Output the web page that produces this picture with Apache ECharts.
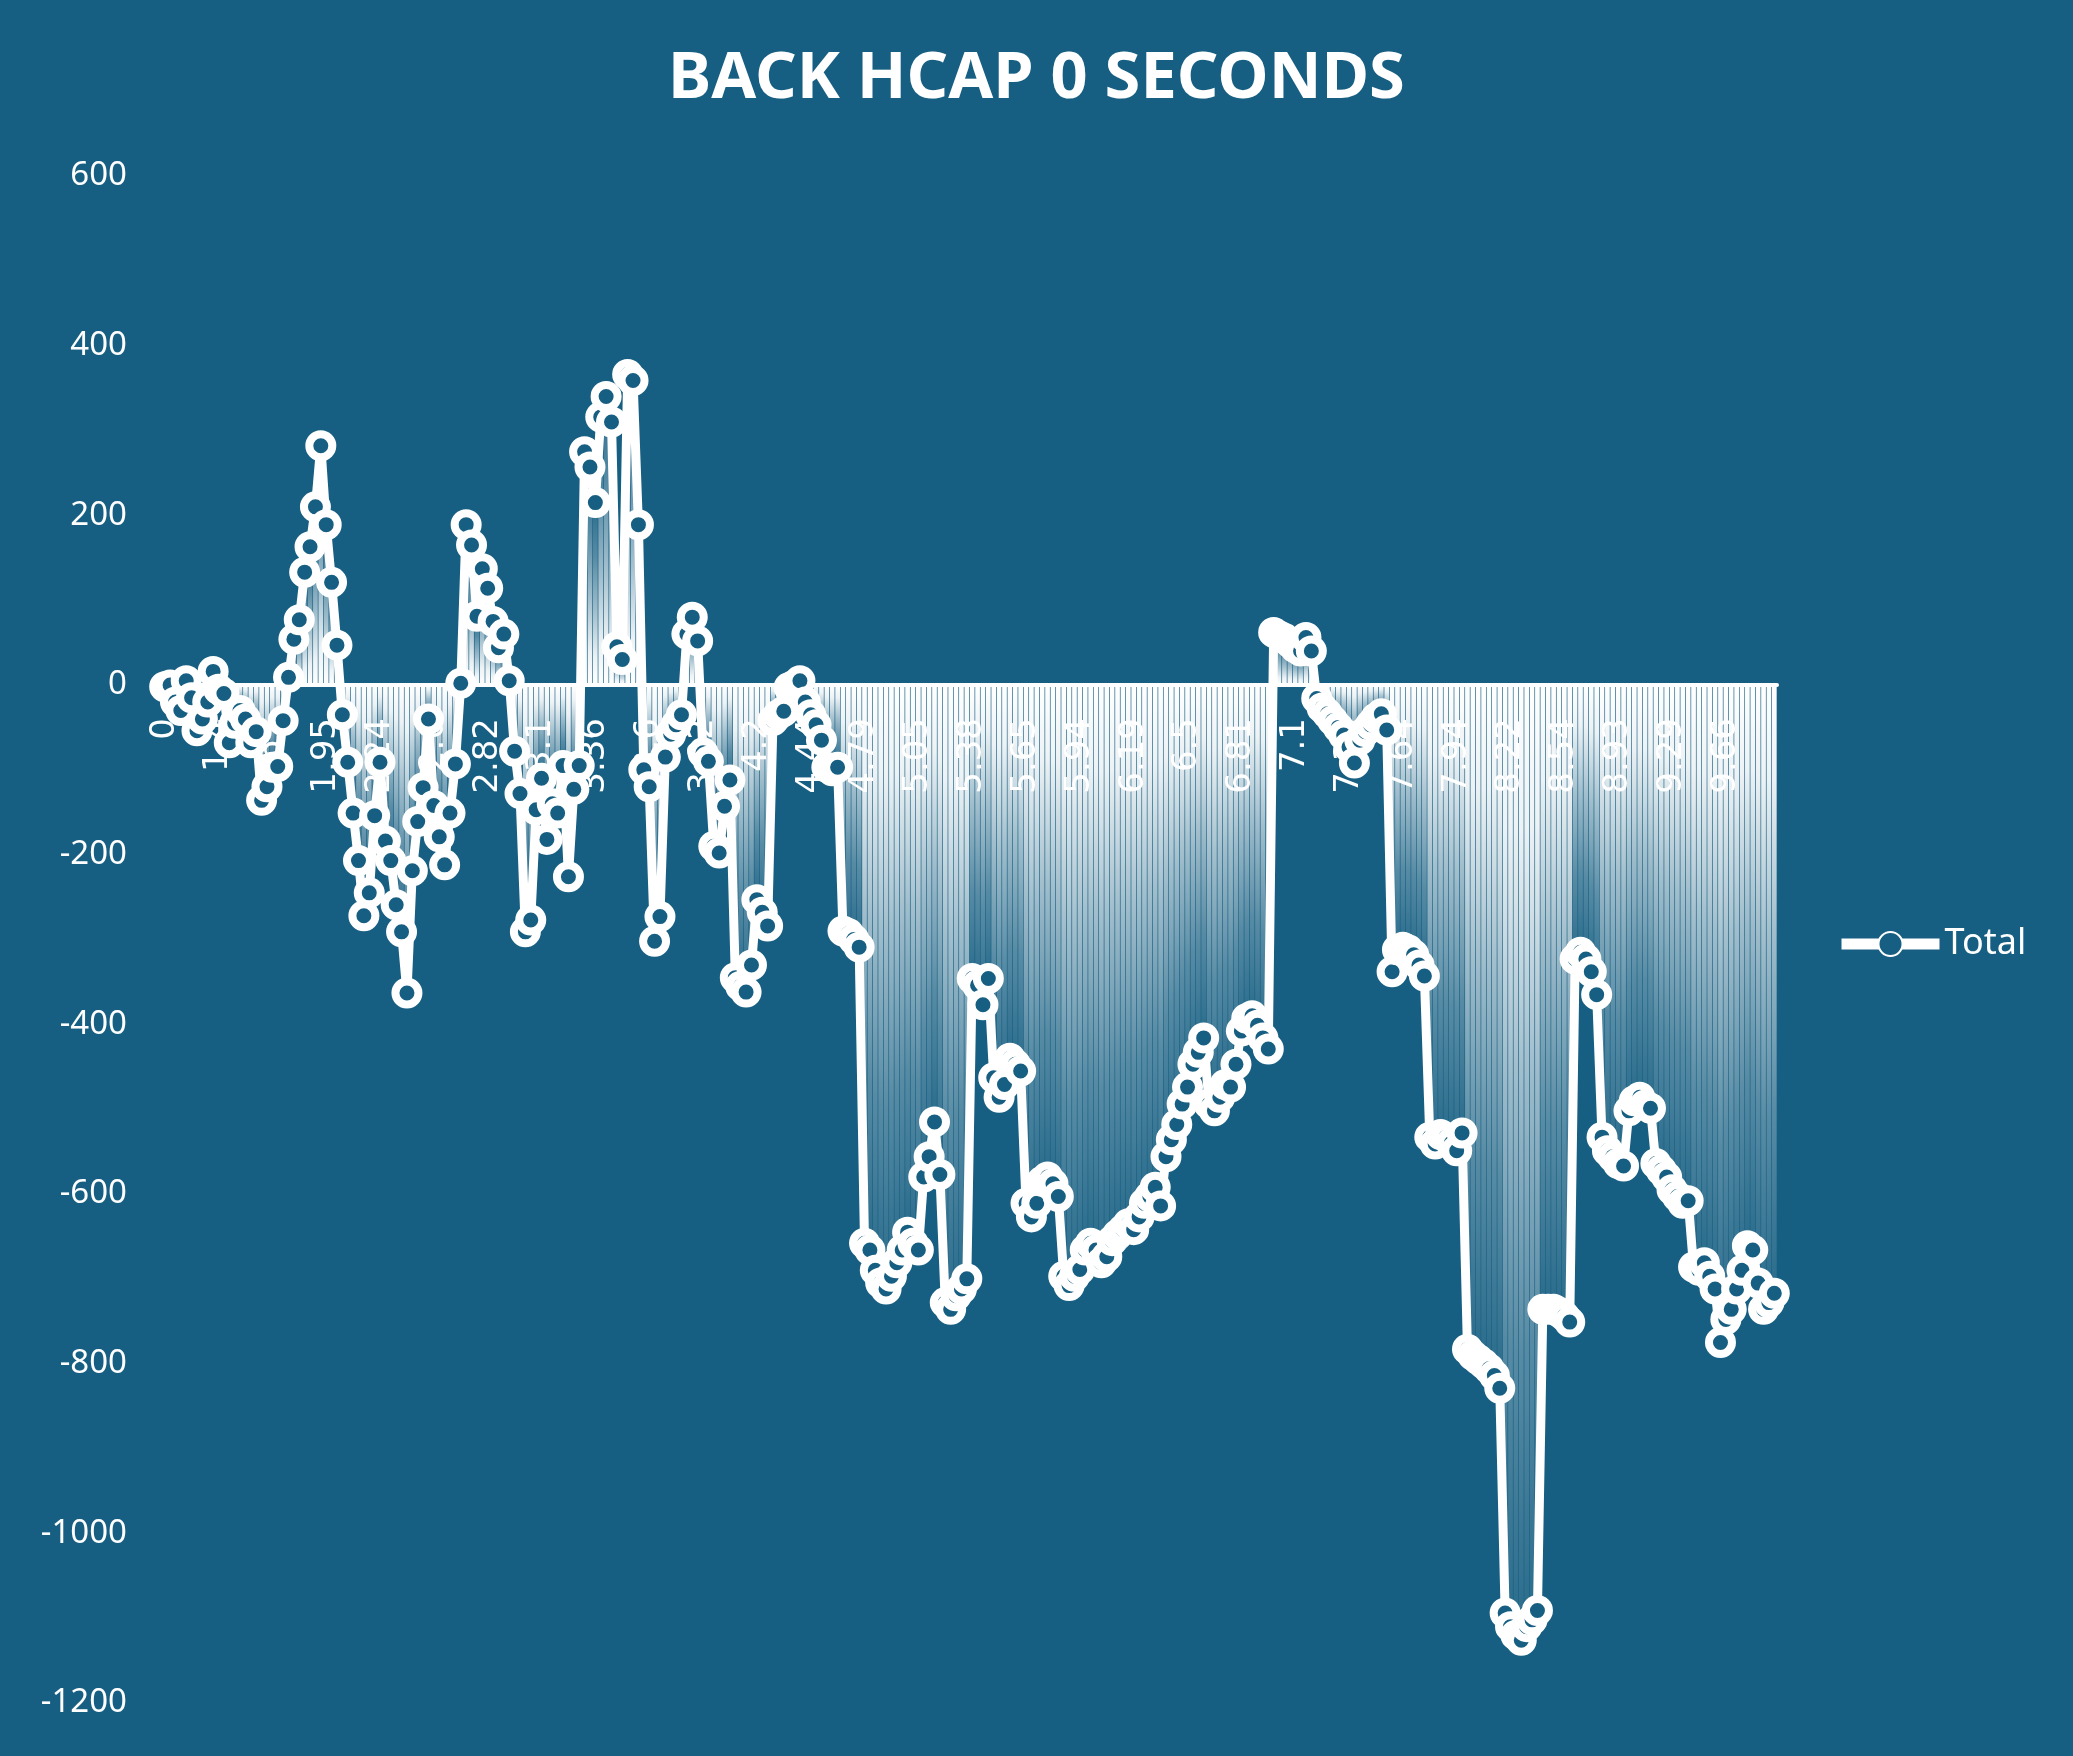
<!DOCTYPE html>
<html>
<head>
<meta charset="utf-8">
<script src="https://cdn.jsdelivr.net/npm/echarts@6/dist/echarts.min.js"></script>
<style>
  html, body { margin: 0; padding: 0; background: #175f82; }
  #chart { width: 2073px; height: 1756px; }
</style>
</head>
<body>
<div id="chart"></div>
<script>
// x tick labels, one every STEP points
const STEP = 10
const tickLabels = ['0', '1.4', '1.65', '1.95', '2.24', '2.6', '2.82', '3.1', '3.36', '3.6',
  '3.92', '4.2', '4.44', '4.79', '5.05', '5.38', '5.65', '5.94', '6.19', '6.5',
  '6.81', '7.1', '7.36', '7.64', '7.94', '8.22', '8.54', '8.93', '9.29', '9.66']

// running total
const total = [
  -2, 0, -20, -30, 5, -15, -54, -40, -20, 16,
  -5, -10, -68, -45, -30, -40, -68, -55, -136, -120,
  -97, -96, -42, 9, 54, 77, 133, 163, 210, 282,
  189, 121, 47, -35, -91, -151, -207, -272, -245, -154,
  -91, -184, -207, -259, -291, -363, -219, -161, -121, -40,
  -142, -179, -212, -151, -93, 2, 189, 165, 81, 137,
  114, 75, 44, 60, 5, -78, -128, -291, -277, -147,
  -110, -182, -140, -151, -95, -226, -123, -95, 275, 257,
  215, 316, 340, 310, 45, 30, 366, 359, 189, -100,
  -120, -302, -273, -85, -58, -47, -35, 60, 80, 52,
  -80, -90, -190, -198, -143, -112, -345, -355, -362, -330,
  -253, -268, -284, -42, -35, -31, -3, 0, 5, -20,
  -35, -47, -65, -97, -101, -97, -290, -293, -300, -309,
  -658, -666, -690, -705, -712, -697, -681, -666, -645, -658,
  -666, -580, -556, -515, -577, -728, -736, -720, -712, -700,
  -346, -354, -377, -346, -463, -486, -471, -440, -447, -455,
  -611, -627, -611, -585, -580, -588, -603, -697, -708, -697,
  -689, -666, -658, -666, -681, -674, -655, -648, -642, -635,
  -642, -627, -611, -603, -592, -614, -556, -536, -518, -494,
  -474, -447, -433, -416, -494, -502, -486, -471, -474, -447,
  -408, -393, -390, -401, -416, -429, 62, 58, 55, 50,
  44, 40, 56, 40, -16, -27, -34, -42, -50, -59,
  -73, -92, -65, -55, -47, -39, -34, -53, -338, -312,
  -309, -312, -318, -330, -343, -533, -541, -530, -533, -540,
  -549, -528, -783, -790, -795, -800, -806, -814, -829, -1094,
  -1110, -1120, -1126, -1110, -1102, -1091, -736, -736, -736, -739,
  -744, -751, -323, -315, -323, -338, -365, -533, -549, -556,
  -564, -567, -502, -490, -486, -495, -499, -564, -572, -580,
  -595, -603, -611, -608, -686, -690, -681, -697, -712, -775,
  -748, -736, -712, -690, -661, -666, -705, -736, -728, -717
]

const categories = total.map((v, i) => i)

const bg = '#175f82'
const yMin = -1200
const yMax = 600
const gridTop = 176
const gridBottom = 53
const plotH = 1756 - gridTop - gridBottom
// move the category axis up to the zero line
const zeroOffset = -plotH * (0 - yMin) / (yMax - yMin)

// drop lines: white at the axis, fading towards the point
function dropColor(v) {
  const stops = [
    { offset: 0, color: 'rgba(255,255,255,1)' },
    { offset: 0.15, color: 'rgba(255,255,255,0.92)' },
    { offset: 0.4, color: 'rgba(255,255,255,0.6)' },
    { offset: 0.7, color: 'rgba(255,255,255,0.28)' },
    { offset: 1, color: 'rgba(255,255,255,0.08)' }
  ]
  return v < 0
    ? new echarts.graphic.LinearGradient(0, 0, 0, 1, stops)
    : new echarts.graphic.LinearGradient(0, 1, 0, 0, stops)
}

let chart = echarts.init(document.getElementById('chart'))

chart.setOption({
  backgroundColor: bg,
  animation: false,
  title: {
    text: 'BACK HCAP 0 SECONDS',
    left: 'center',
    top: 42,
    textStyle: {
      color: '#fff',
      fontSize: 65,
      fontWeight: 'bold',
      fontFamily: 'Noto Sans'
    }
  },
  legend: {
    data: ['Total'],
    left: 1831,
    top: 921,
    itemWidth: 98,
    itemHeight: 30,
    lineStyle: { width: 11 },
    textStyle: { color: '#fff', fontSize: 36, fontFamily: 'Noto Sans' }
  },
  grid: {
    left: 162,
    right: 296,
    top: gridTop,
    bottom: gridBottom
  },
  xAxis: {
    type: 'category',
    data: categories,
    z: 2,
    position: 'bottom',
    offset: zeroOffset,
    axisLine: { onZero: false, lineStyle: { color: '#fff', width: 4 } },
    axisTick: { show: false },
    axisLabel: {
      rotate: 90,
      interval: STEP - 1,
      margin: 33,
      color: '#fff',
      fontSize: 34,
      fontFamily: 'DejaVu Sans',
      formatter: function (v, i) { return tickLabels[i / STEP] }
    },
    splitLine: { show: false }
  },
  yAxis: {
    type: 'value',
    min: yMin,
    max: yMax,
    interval: 200,
    axisLine: { show: false },
    axisTick: { show: false },
    splitLine: { show: false },
    axisLabel: {
      color: '#fff',
      fontSize: 33,
      margin: 35,
      fontFamily: 'Noto Sans',
      formatter: function (v) { return String(v) }
    }
  },
  series: [
    {
      name: 'drop',
      type: 'bar',
      z: 1,
      silent: true,
      barCategoryGap: '12%',
      data: total.map(v => ({ value: v, itemStyle: { color: dropColor(v) } }))
    },
    {
      name: 'Total',
      type: 'line',
      z: 3,
      data: total,
      showAllSymbol: true,
      symbol: 'circle',
      symbolSize: 23,
      lineStyle: { color: '#fff', width: 9 },
      itemStyle: { color: bg, borderColor: '#fff', borderWidth: 8 }
    }
  ]
})
</script>
</body>
</html>
